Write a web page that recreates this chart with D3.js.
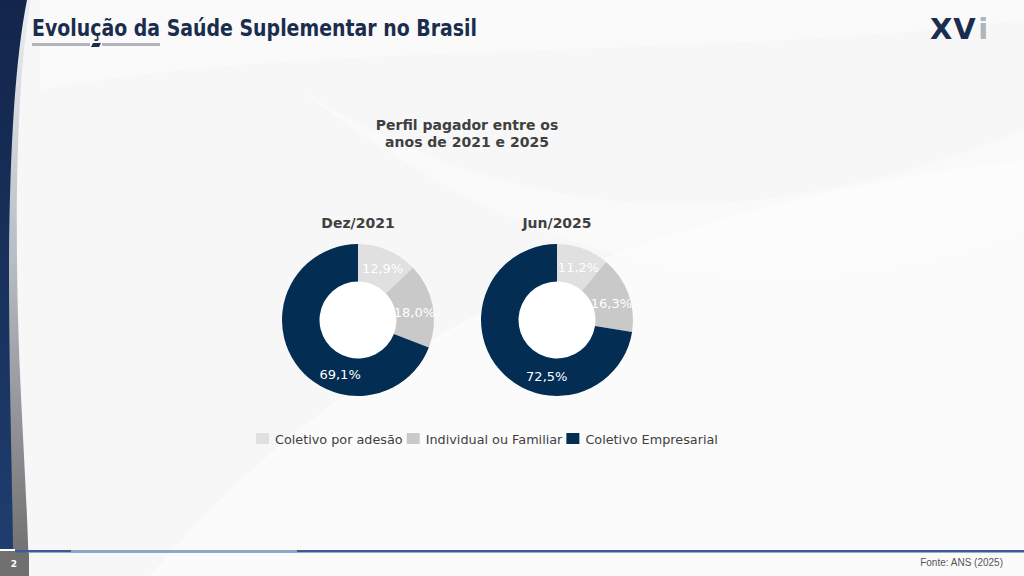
<!DOCTYPE html>
<html>
<head>
<meta charset="utf-8">
<script src="https://cdn.jsdelivr.net/npm/d3@7"></script>
<style>
  html, body { margin: 0; padding: 0; background: #f8f8f8; }
  svg { display: block; }
</style>
</head>
<body>
<div class="canvas"></div>
<script>
// data
var categories = ["Coletivo por adesão", "Individual ou Familiar", "Coletivo Empresarial"];
var periods = ["Dez/2021", "Jun/2025"];
var values2021 = [12.9, 18.0, 69.1];
var values2025 = [11.2, 16.3, 72.5];
var seriesValues = [values2021, values2025];
var colors = ["#e0e0e0", "#c9c9c9", "#032d53"];

var W = 1024, H = 576;
var font = "'DejaVu Sans', sans-serif";

var svg = d3.select(".canvas").append("svg").attr("width", W).attr("height", H);

// background + soft swooshes
svg.append("rect").attr("width", W).attr("height", H).attr("fill", "#f7f7f7");
svg.append("path")
    .attr("d", "M40,90 C300,40 700,60 1024,20 L1024,0 L40,0 Z")
    .attr("fill", "#fafafa");
svg.append("path")
    .attr("d", "M150,576 C380,300 700,200 1024,160 L1024,576 Z")
    .attr("fill", "#fbfbfb");
svg.append("path")
    .attr("d", "M300,90 C480,200 700,260 1024,130 L1024,230 C760,330 520,260 300,90 Z")
    .attr("fill", "#ffffff").attr("opacity", 0.35);

// left sidebar
var defs = svg.append("defs");
var gGray = defs.append("linearGradient").attr("id", "gGray").attr("x1", 0).attr("y1", 0).attr("x2", 0).attr("y2", 1);
gGray.append("stop").attr("offset", "0%").attr("stop-color", "#eceef2");
gGray.append("stop").attr("offset", "45%").attr("stop-color", "#b8bcc4");
gGray.append("stop").attr("offset", "100%").attr("stop-color", "#6c6c6c");
var gNavy = defs.append("linearGradient").attr("id", "gNavy").attr("x1", 0).attr("y1", 0).attr("x2", 0).attr("y2", 1);
gNavy.append("stop").attr("offset", "0%").attr("stop-color", "#13254a");
gNavy.append("stop").attr("offset", "100%").attr("stop-color", "#1e3d6e");

svg.append("path")
    .attr("d", "M0,0 L31,0 C20,60 16,150 17,260 C18,380 26,460 29,576 L0,576 Z")
    .attr("fill", "url(#gGray)");
svg.append("path")
    .attr("d", "M0,0 L27,0 C15,60 10,150 9,260 C9,380 12,460 13,550 L0,550 Z")
    .attr("fill", "url(#gNavy)");
svg.append("rect").attr("x", 0).attr("y", 553).attr("width", 29).attr("height", 23).attr("fill", "#707070");
svg.append("text").attr("x", 14).attr("y", 567).attr("text-anchor", "middle")
    .attr("font-family", font).attr("font-size", "9px").attr("font-weight", "bold")
    .attr("fill", "#fff").text("2");

// footer line
svg.append("rect").attr("x", 0).attr("y", 549).attr("width", 15).attr("height", 2).attr("fill", "#ffffff");
svg.append("rect").attr("x", 15).attr("y", 550).attr("width", W - 15).attr("height", 2.5).attr("fill", "#3a5c96");
svg.append("rect").attr("x", 71).attr("y", 550).attr("width", 226).attr("height", 2.5).attr("fill", "#8ea6c9");
svg.append("text").attr("x", 1003).attr("y", 566).attr("text-anchor", "end")
    .attr("font-family", "'Liberation Sans Narrow', 'Liberation Sans', sans-serif")
    .attr("font-size", "10px").attr("fill", "#555").text("Fonte: ANS (2025)");

// header
svg.append("text").attr("x", 32).attr("y", 36)
    .attr("font-family", font).attr("font-size", "23px").attr("font-weight", "bold")
    .attr("fill", "#1b2d4f")
    .attr("textLength", 445).attr("lengthAdjust", "spacingAndGlyphs")
    .text("Evolução da Saúde Suplementar no Brasil");
svg.append("rect").attr("x", 32).attr("y", 43).attr("width", 58).attr("height", 3).attr("fill", "#b3b3bb");
svg.append("rect").attr("x", 102).attr("y", 43).attr("width", 58).attr("height", 3).attr("fill", "#b3b3bb");
svg.append("path").attr("d", "M93,43 L101,43 L99,47 L91,47 Z").attr("fill", "#1b2d4f");

// logo
var logo = svg.append("text").attr("x", 930).attr("y", 39)
    .attr("font-family", font).attr("font-size", "29px").attr("font-weight", "bold")
    .attr("letter-spacing", "1px");
logo.append("tspan").attr("fill", "#1b2d4f").text("XV");
logo.append("tspan").attr("fill", "#b0b4bc").attr("dx", "2").text("i");

// chart title
var titleLines = ["Perfil pagador entre os", "anos de 2021 e 2025"];
svg.selectAll(".ctitle").data(titleLines).enter().append("text")
    .attr("class", "ctitle")
    .attr("x", 467)
    .attr("y", function(d, i) { return 130 + i * 17; })
    .attr("text-anchor", "middle")
    .attr("font-family", font).attr("font-size", "14px").attr("font-weight", "bold")
    .attr("fill", "#404040")
    .text(function(d) { return d; });

// donuts
var centerX = d3.scalePoint().domain(periods).range([358, 557]);
var cy = 320, rOuter = 76, rInner = 38.5, rLabel = 57;

var pie = d3.pie().sort(null).value(function(d) { return d; });
var arc = d3.arc().innerRadius(rInner).outerRadius(rOuter);

periods.forEach(function(p, k) {
    var g = svg.append("g").attr("transform", "translate(" + centerX(p) + "," + cy + ")");
    var arcs = pie(seriesValues[k]);

    g.append("circle").attr("r", rInner).attr("fill", "#ffffff");

    g.selectAll("path").data(arcs).enter().append("path")
        .attr("d", arc)
        .attr("fill", function(d, i) { return colors[i]; });

    g.selectAll(".lbl").data(arcs).enter().append("text")
        .attr("class", "lbl")
        .attr("transform", function(d) {
            var t = d.value > 50 ? 0.35 : 0.55;
            var a = d.startAngle + (d.endAngle - d.startAngle) * t;
            return "translate(" + (Math.sin(a) * rLabel) + "," + (-Math.cos(a) * rLabel) + ")";
        })
        .attr("dy", "0.35em")
        .attr("text-anchor", "middle")
        .attr("font-family", font).attr("font-size", "13px")
        .attr("fill", "#ffffff")
        .text(function(d) { return d3.format(".1f")(d.value).replace(".", ",") + "%"; });

    svg.append("text")
        .attr("x", centerX(p))
        .attr("y", 228)
        .attr("text-anchor", "middle")
        .attr("font-family", font).attr("font-size", "14px").attr("font-weight", "bold")
        .attr("fill", "#404040")
        .text(p);
});

// legend
var legend = svg.append("g");
var lx = 256;
categories.forEach(function(c, i) {
    legend.append("rect").attr("x", lx).attr("y", 433).attr("width", 13).attr("height", 11)
        .attr("fill", colors[i]);
    var t = legend.append("text").attr("x", lx + 19).attr("y", 443.5)
        .attr("font-family", font).attr("font-size", "12.8px").attr("fill", "#404040")
        .text(c);
    lx += 19 + t.node().getComputedTextLength() + 4;
});
</script>
</body>
</html>
